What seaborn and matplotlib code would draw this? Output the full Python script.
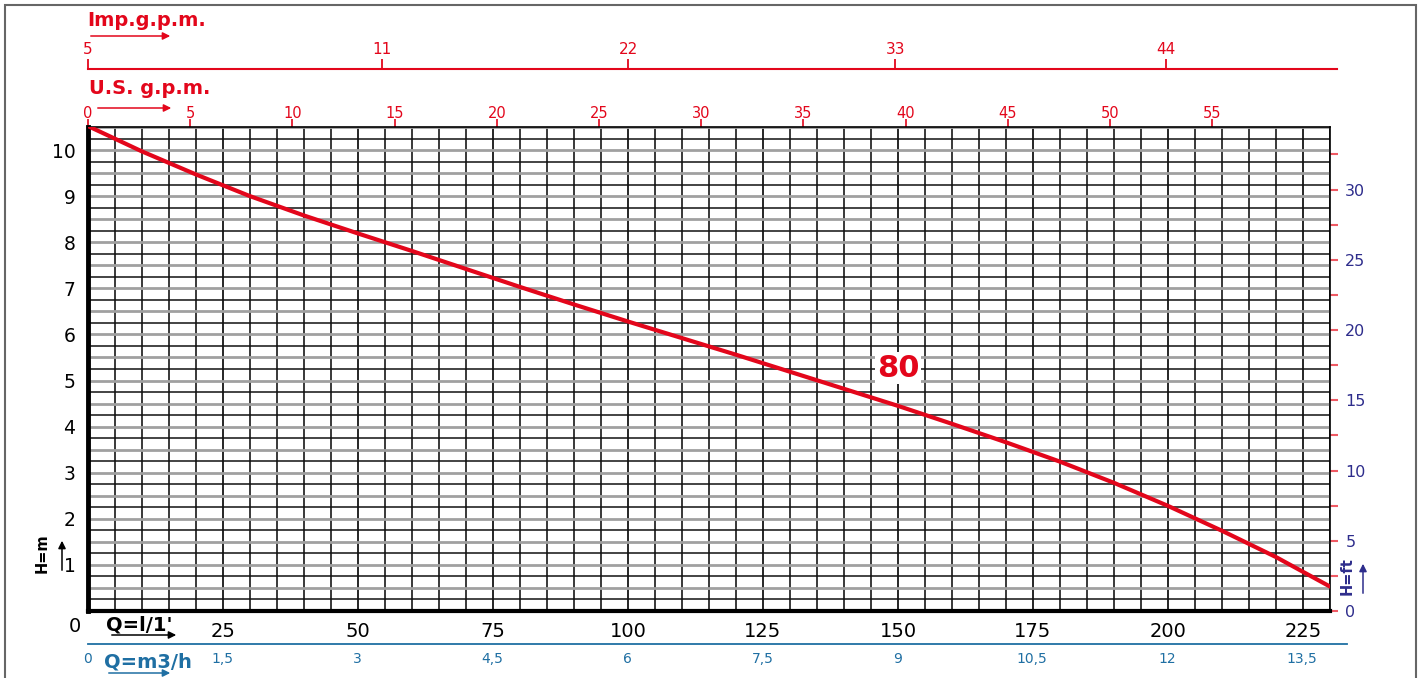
import numpy as np
import pandas as pd
import matplotlib
matplotlib.use("Agg")
import matplotlib.pyplot as plt
import matplotlib.ticker as mticker
from matplotlib.patches import FancyArrowPatch, Rectangle
import seaborn as sns

# pump curve: Q in l/min, H in m
flow_lpm = [0, 10, 20, 30, 40, 50, 60, 70, 80, 90, 100, 110, 120, 130, 140, 150,
            160, 170, 180, 190, 200, 210, 220, 230]
head_m = [10.52, 9.97, 9.47, 9.00, 8.58, 8.19, 7.81, 7.42, 7.03, 6.65, 6.28, 5.92,
          5.56, 5.19, 4.82, 4.45, 4.06, 3.66, 3.24, 2.78, 2.28, 1.74, 1.17, 0.53]
curve_name = "80"

lpm_ticks = [0, 25, 50, 75, 100, 125, 150, 175, 200, 225]
usgpm_ticks = [0, 5, 10, 15, 20, 25, 30, 35, 40, 45, 50, 55]
imp_pos_lpm = [0, 54.5, 100, 149.5, 199.6]   # where the Imp. labels sit on the chart
imp_labels = ["5", "11", "22", "33", "44"]
m3h_ticks = [0, 1.5, 3, 4.5, 6, 7.5, 9, 10.5, 12, 13.5]
ft_ticks = [0, 2.5, 5, 7.5, 10, 12.5, 15, 17.5, 20, 22.5, 25, 27.5, 30, 32.5]

RED = "#e3061b"
TICK_RED = "#ef5a64"
BLUE = "#1f6fa3"
NAVY = "#2e2d8c"

sns.set_style("white")
plt.rcParams["font.family"] = ["DejaVu Sans"]
plt.rcParams["text.color"] = "black"

W, H = 1421, 678
fig = plt.figure(figsize=(W / 100, H / 100), dpi=100)


def fx(x):
    return x / W


def fy(y):
    return 1 - y / H


# main chart
ax = fig.add_axes([fx(88), fy(611), fx(1330) - fx(88), fy(127) - fy(611)])
df = pd.DataFrame({"Q": flow_lpm, "H": head_m})
sns.lineplot(data=df, x="Q", y="H", ax=ax, color=RED, lw=3, zorder=5)
ax.set_xlim(0, 230)
ax.set_ylim(0, 10.5)
ax.set_xlabel("")
ax.set_ylabel("")
ax.set_axisbelow(True)

ax.set_xticks(lpm_ticks)
ax.set_xticklabels([""] + [str(v) for v in lpm_ticks[1:]])
ax.set_xticks(np.arange(0, 231, 5), minor=True)
ax.xaxis.remove_overlapping_locs = False
ax.set_yticks(np.arange(0, 10.51, 0.5))
ax.set_yticks(np.arange(0.25, 10.5, 0.5), minor=True)
ax.yaxis.set_major_formatter(mticker.FuncFormatter(
    lambda v, p: str(int(round(v))) if abs(v - round(v)) < 1e-6 and v > 0 else ""))

ax.grid(True, axis="x", which="both", color="#2a2a2a", lw=1.3)
ax.grid(True, axis="y", which="major", color="#a0a0a0", lw=2.0)
ax.grid(True, axis="y", which="minor", color="#111111", lw=1.1)

ax.tick_params(axis="x", which="major", direction="out", length=7, width=1.5,
               color=TICK_RED, labelcolor="black", labelsize=14, pad=1)
ax.tick_params(axis="x", which="minor", length=0)
ax.tick_params(axis="y", which="major", direction="out", length=8, width=1.5,
               color=TICK_RED, labelcolor="black", labelsize=13.5, pad=1)
ax.tick_params(axis="y", which="minor", length=0)

ax.spines["left"].set_linewidth(3.5)
ax.spines["bottom"].set_linewidth(3)
ax.spines["top"].set_linewidth(1.2)
ax.spines["right"].set_linewidth(1.2)
for s in ax.spines.values():
    s.set_color("black")

# U.S. g.p.m. along the top
sec = ax.secondary_xaxis("top", functions=(lambda q: q / 3.785411784,
                                           lambda g: g * 3.785411784))
sec.set_xticks(usgpm_ticks)
sec.tick_params(direction="out", length=6, width=1.2, color=RED,
                labelcolor=RED, labelsize=10.5, pad=-2)
sec.spines["top"].set_visible(False)

# H in feet on the right
secy = ax.secondary_yaxis("right", functions=(lambda h: h / 0.3048,
                                              lambda f: f * 0.3048))
secy.set_yticks(ft_ticks)
secy.yaxis.set_major_formatter(mticker.FuncFormatter(
    lambda v, p: str(int(round(v))) if abs(v % 5) < 1e-6 else ""))
secy.tick_params(direction="out", length=6, width=1.5, color=TICK_RED,
                 labelcolor=NAVY, labelsize=11.5, pad=5)
secy.spines["right"].set_visible(False)

ax.text(150, 5.27, curve_name, color=RED, fontsize=22, fontweight="bold",
        ha="center", va="center", zorder=6,
        bbox=dict(facecolor="white", edgecolor="none", pad=1))

# Imp. g.p.m. scale
ax_imp = fig.add_axes([fx(88), fy(69) - 0.001, fx(1337) - fx(88), 0.001])
ax_imp.set_xlim(0, (1337 - 88) / 5.4)
ax_imp.set_yticks([])
ax_imp.patch.set_visible(False)
for s in ["left", "right", "bottom"]:
    ax_imp.spines[s].set_visible(False)
ax_imp.spines["top"].set_color(RED)
ax_imp.spines["top"].set_linewidth(1.5)
ax_imp.xaxis.tick_top()
ax_imp.set_xticks(imp_pos_lpm)
ax_imp.set_xticklabels(imp_labels)
ax_imp.tick_params(axis="x", direction="out", length=7, width=1.3, color=RED,
                   labelcolor=RED, labelsize=11, pad=2)

# m3/h scale
ax_m3 = fig.add_axes([fx(88), fy(644), fx(1347) - fx(88), 0.001])
ax_m3.set_xlim(0, (1347 - 88) / 90)
ax_m3.set_yticks([])
ax_m3.patch.set_visible(False)
for s in ["left", "right", "top"]:
    ax_m3.spines[s].set_visible(False)
ax_m3.spines["bottom"].set_color(BLUE)
ax_m3.spines["bottom"].set_linewidth(1.3)
ax_m3.set_xticks(m3h_ticks)
ax_m3.set_xticklabels([("%g" % v).replace(".", ",") for v in m3h_ticks])
ax_m3.set_xticks(np.arange(0, 14.01, 0.5), minor=True)
ax_m3.tick_params(axis="x", which="major", direction="out", length=6, width=1.2,
                  color=BLUE, labelcolor=BLUE, labelsize=10, pad=0)
ax_m3.tick_params(axis="x", which="minor", direction="out", length=4, width=1.2,
                  color=BLUE)

# titles / unit labels
fig.text(fx(87), fy(20), "Imp.g.p.m.", color=RED, fontsize=14, fontweight="bold",
         ha="left", va="center")
fig.text(fx(89), fy(88), "U.S. g.p.m.", color=RED, fontsize=14, fontweight="bold",
         ha="left", va="center")
fig.text(fx(75), fy(627), "0", fontsize=14, color="black", ha="center", va="center")
fig.text(fx(106), fy(625), "Q=l/1'", fontsize=14, fontweight="bold", color="black",
         ha="left", va="center")
fig.text(fx(104), fy(662), "Q=m3/h", color=BLUE, fontsize=14, fontweight="bold",
         ha="left", va="center")
fig.text(fx(42), fy(553), "H=m", rotation=90, fontsize=10.5, fontweight="bold",
         color="black", ha="center", va="center")
fig.text(fx(1347), fy(576), "H=ft", rotation=90, color=NAVY, fontsize=10.5,
         fontweight="bold", ha="center", va="center")


def arrow(x0, y0, x1, y1, color):
    fig.add_artist(FancyArrowPatch((fx(x0), fy(y0)), (fx(x1), fy(y1)),
                                   transform=fig.transFigure, arrowstyle="-|>",
                                   mutation_scale=11, lw=1.1, color=color))


arrow(88, 36, 173, 36, RED)
arrow(95, 108, 174, 108, RED)
arrow(109, 635, 179, 635, "black")
arrow(106, 673, 173, 673, BLUE)
arrow(62, 573, 62, 538, "black")
arrow(1363, 596, 1363, 561, NAVY)

# outer frame
fig.add_artist(Rectangle((fx(5), fy(700)), fx(1416) - fx(5), fy(5) - fy(700),
                         transform=fig.transFigure, fill=False, ec="#666666",
                         lw=1.5, clip_on=False))

fig.savefig("out.png", dpi=100)
